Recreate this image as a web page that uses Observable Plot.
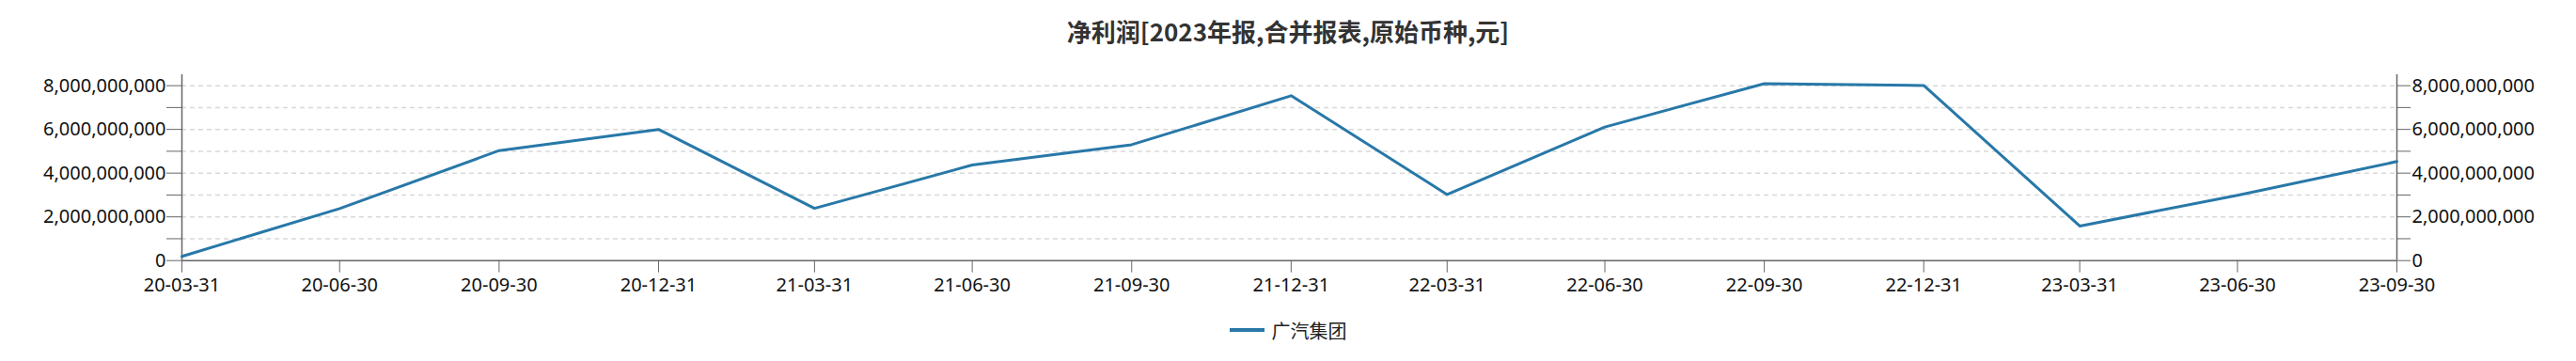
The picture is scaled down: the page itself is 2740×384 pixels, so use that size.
<!DOCTYPE html>
<html>
<head>
<meta charset="utf-8">
<script src="https://cdn.jsdelivr.net/npm/d3@7"></script>
<script src="https://cdn.jsdelivr.net/npm/@observablehq/plot@0.6"></script>
<style>
  html, body { margin: 0; padding: 0; background: #fff; }
  body { width: 2740px; height: 384px; overflow: hidden; font-family: "Noto Sans", "Noto Sans CJK SC", sans-serif; }
  #title { height: 60px; line-height: 66px; text-align: center; font-size: 26px; font-weight: bold; color: #333;
           font-family: "Noto Sans CJK SC", "Noto Sans", sans-serif; }
  #legend { height: 42px; display: flex; align-items: center; justify-content: center; gap: 8px; font-size: 20px;
            color: #222; font-family: "Noto Sans CJK SC", sans-serif; }
  #legend .sw { width: 37px; height: 4px; background: #2878a8; }
  #chart svg { display: block; }
</style>
</head>
<body>
<div id="title"></div>
<div id="chart"></div>
<div id="legend"><span class="sw"></span><span id="legendText"></span></div>
<script>
const titleText = "净利润[2023年报,合并报表,原始币种,元]";
const seriesName = "广汽集团";
const periods = ["20-03-31","20-06-30","20-09-30","20-12-31","21-03-31","21-06-30","21-09-30","21-12-31","22-03-31","22-06-30","22-09-30","22-12-31","23-03-31","23-06-30","23-09-30"];
const profit = [0.19e9, 2.38e9, 5.03e9, 6.00e9, 2.39e9, 4.37e9, 5.30e9, 7.54e9, 3.02e9, 6.11e9, 8.09e9, 8.01e9, 1.58e9, 2.99e9, 4.53e9];
const yTicks = [0, 1e9, 2e9, 3e9, 4e9, 5e9, 6e9, 7e9, 8e9];
const yLabeled = [0, 2e9, 4e9, 6e9, 8e9];
const yMax = 8.5e9;
const lineColor = "#2878a8";
const axisColor = "#666";

document.getElementById("title").textContent = titleText;
document.getElementById("legendText").textContent = seriesName;

const parse = s => new Date(Date.UTC(2000 + +s.slice(0, 2), +s.slice(3, 5) - 1, +s.slice(6, 8)));
const data = periods.map((p, i) => ({date: parse(p), label: p, value: profit[i]}));
const xDates = data.map(d => d.date);
const fmt = d3.format(",");
const yFmt = d => yLabeled.includes(d) ? fmt(d) : "";
const xFmt = d => periods[xDates.findIndex(t => +t === +d)] ?? "";

const chart = Plot.plot({
  width: 2740,
  height: 270,
  marginTop: 19,
  marginBottom: 53.3,
  marginLeft: 193,
  marginRight: 191,
  style: {fontSize: "20px", fontFamily: "'Noto Sans', 'Noto Sans CJK SC', sans-serif", color: "#111", background: "#fff"},
  x: {type: "utc", domain: [xDates[0], xDates[xDates.length - 1]]},
  y: {domain: [0, yMax]},
  marks: [
    Plot.gridY(yTicks.slice(1), {stroke: "#d9d9d9", strokeOpacity: 1, strokeDasharray: "5,4", strokeWidth: 1.5}),
    Plot.ruleY([0], {stroke: axisColor, strokeWidth: 1.5}),
    Plot.ruleX([xDates[0], xDates[xDates.length - 1]], {y1: 0, y2: yMax, stroke: axisColor, strokeWidth: 1.5}),
    Plot.axisX(xDates, {anchor: "bottom", tickSize: 13, tickPadding: 6, tickFormat: xFmt, stroke: axisColor, strokeOpacity: 1, fill: "#111", fontSize: 20, label: null}),
    Plot.axisY(yTicks, {anchor: "left", tickSize: 16, tickPadding: 1, tickFormat: yFmt, stroke: axisColor, strokeOpacity: 1, fill: "#111", fontSize: 20, label: null}),
    Plot.axisY(yTicks, {anchor: "right", tickSize: 14, tickPadding: 2, tickFormat: yFmt, stroke: axisColor, strokeOpacity: 1, fill: "#111", fontSize: 20, label: null}),
    Plot.line(data, {x: "date", y: "value", stroke: lineColor, strokeWidth: 3})
  ]
});
document.getElementById("chart").appendChild(chart);
</script>
</body>
</html>
